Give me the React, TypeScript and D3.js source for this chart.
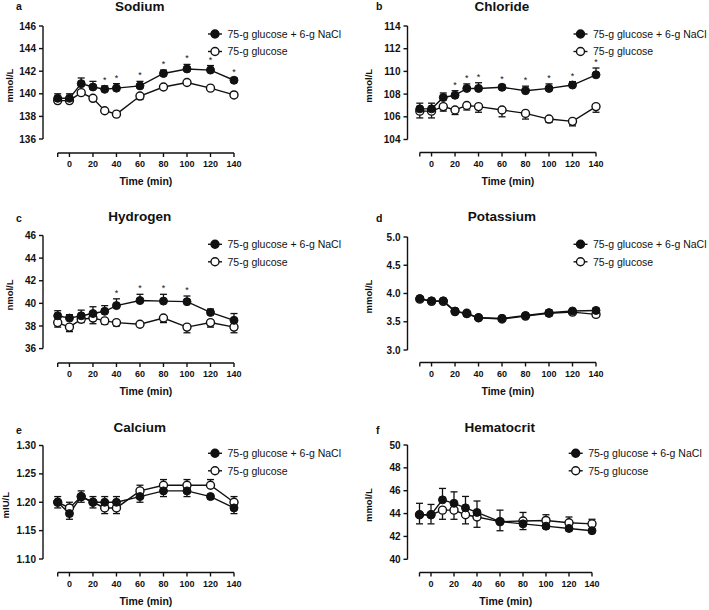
import React from 'react';
import * as d3 from 'd3';

const times = [-10, 0, 10, 20, 30, 40, 60, 80, 100, 120, 140];
const xTickValues = [0, 20, 40, 60, 80, 100, 120, 140];
const seriesNames = ['75-g glucose + 6-g NaCl', '75-g glucose'];

// a Sodium
const sodiumNaCl = [139.6, 139.6, 140.9, 140.6, 140.4, 140.5, 140.7, 141.8, 142.2, 142.1, 141.2];
const sodiumNaClErr = [0.4, 0.4, 0.5, 0.5, 0.3, 0.4, 0.4, 0.3, 0.4, 0.4, 0.2];
const sodiumGlu = [139.4, 139.4, 140.1, 139.6, 138.5, 138.2, 139.8, 140.6, 141.0, 140.5, 139.9];
const sodiumGluErr = [0.15, 0.15, 0.15, 0.15, 0.15, 0.2, 0.3, 0.15, 0.15, 0.15, 0.2];
const sodiumStars = [30, 40, 60, 80, 100, 120, 140];
const sodiumTicks = [136, 138, 140, 142, 144, 146];

// b Chloride
const chlorideNaCl = [106.7, 106.7, 107.7, 107.9, 108.5, 108.5, 108.6, 108.3, 108.5, 108.8, 109.7];
const chlorideNaClErr = [0.5, 0.5, 0.4, 0.4, 0.4, 0.5, 0.2, 0.4, 0.4, 0.3, 0.6];
const chlorideGlu = [106.5, 106.5, 106.9, 106.6, 107.0, 106.9, 106.6, 106.3, 105.8, 105.6, 106.9];
const chlorideGluErr = [0.6, 0.6, 0.4, 0.4, 0.4, 0.5, 0.6, 0.5, 0.3, 0.4, 0.5];
const chlorideStars = [20, 30, 40, 60, 80, 100, 120, 140];
const chlorideTicks = [104, 106, 108, 110, 112, 114];

// c Hydrogen
const hydrogenNaCl = [38.9, 38.7, 38.9, 39.1, 39.3, 39.8, 40.25, 40.2, 40.15, 39.2, 38.5];
const hydrogenNaClErr = [0.45, 0.3, 0.5, 0.6, 0.5, 0.6, 0.55, 0.6, 0.5, 0.3, 0.6];
const hydrogenGlu = [38.3, 37.9, 38.6, 38.7, 38.45, 38.3, 38.15, 38.7, 37.9, 38.3, 37.9];
const hydrogenGluErr = [0.4, 0.4, 0.3, 0.5, 0.3, 0.3, 0.1, 0.4, 0.5, 0.4, 0.5];
const hydrogenStars = [40, 60, 80, 100];
const hydrogenTicks = [36, 38, 40, 42, 44, 46];

// d Potassium
const potassiumNaCl = [3.91, 3.87, 3.87, 3.69, 3.64, 3.57, 3.56, 3.61, 3.66, 3.69, 3.7];
const potassiumNaClErr = [0.03, 0.04, 0.03, 0.03, 0.04, 0.03, 0.03, 0.03, 0.05, 0.04, 0.04];
const potassiumGlu = [3.9, 3.86, 3.86, 3.68, 3.65, 3.57, 3.55, 3.6, 3.65, 3.67, 3.63];
const potassiumGluErr = [0.03, 0.04, 0.03, 0.03, 0.04, 0.03, 0.03, 0.04, 0.05, 0.04, 0.04];
const potassiumStars: number[] = [];
const potassiumTicks = [3.0, 3.5, 4.0, 4.5, 5.0];

// e Calcium
const calciumNaCl = [1.2, 1.18, 1.21, 1.2, 1.2, 1.2, 1.21, 1.22, 1.22, 1.21, 1.19];
const calciumNaClErr = [0.01, 0.01, 0.01, 0.01, 0.01, 0.01, 0.01, 0.01, 0.01, 0.004, 0.01];
const calciumGlu = [1.2, 1.19, 1.21, 1.2, 1.19, 1.19, 1.22, 1.23, 1.23, 1.23, 1.2];
const calciumGluErr = [0.01, 0.01, 0.01, 0.01, 0.01, 0.01, 0.01, 0.01, 0.01, 0.01, 0.01];
const calciumStars: number[] = [];
const calciumTicks = [1.1, 1.15, 1.2, 1.25, 1.3];

// f Hematocrit
const hematocritNaCl = [43.9, 43.9, 45.2, 44.9, 44.5, 44.1, 43.3, 43.1, 42.9, 42.7, 42.5];
const hematocritNaClErr = [1.0, 0.9, 1.0, 1.0, 1.0, 1.0, 1.0, 0.5, 0.2, 0.2, 0.1];
const hematocritGlu = [43.9, 43.9, 44.3, 44.3, 43.9, 43.7, 43.3, 43.35, 43.4, 43.2, 43.1];
const hematocritGluErr = [0.8, 0.8, 0.8, 0.8, 0.8, 0.9, 0.8, 0.75, 0.5, 0.5, 0.4];
const hematocritStars: number[] = [];
const hematocritTicks = [40, 42, 44, 46, 48, 50];

type Layout = {
  axisX: number; xr: [number, number]; yr: [number, number]; xAxisY: number;
  legX: number; legY: number; titleY: number; letterX: number; letterY: number; yLabX: number;
};

type Panel = {
  letter: string; title: string; yLabel: string; ticks: number[]; fmt: string;
  nacl: number[]; naclErr: number[]; glu: number[]; gluErr: number[]; stars: number[];
  L: Layout;
};

const LEFT = { axisX: 43, xr: [57.7, 234] as [number, number], letterX: 16, yLabX: 13, legX: 215 };
const RIGHT = { axisX: 407.5, xr: [419.8, 596] as [number, number], letterX: 376, yLabX: 372, legX: 580.5 };

const panels: Panel[] = [
  { letter: 'a', title: 'Sodium', yLabel: 'mmol/L', ticks: sodiumTicks, fmt: 'd',
    nacl: sodiumNaCl, naclErr: sodiumNaClErr, glu: sodiumGlu, gluErr: sodiumGluErr, stars: sodiumStars,
    L: { ...LEFT, yr: [139, 26], xAxisY: 153, legY: 34, titleY: 11, letterY: 10 } },
  { letter: 'b', title: 'Chloride', yLabel: 'mmol/L', ticks: chlorideTicks, fmt: 'd',
    nacl: chlorideNaCl, naclErr: chlorideNaClErr, glu: chlorideGlu, gluErr: chlorideGluErr, stars: chlorideStars,
    L: { ...RIGHT, yr: [139.5, 26], xAxisY: 152.5, legY: 34, titleY: 11, letterY: 10 } },
  { letter: 'c', title: 'Hydrogen', yLabel: 'nmol/L', ticks: hydrogenTicks, fmt: 'd',
    nacl: hydrogenNaCl, naclErr: hydrogenNaClErr, glu: hydrogenGlu, gluErr: hydrogenGluErr, stars: hydrogenStars,
    L: { ...LEFT, yr: [348.6, 235.5], xAxisY: 363, legY: 244.3, titleY: 221, letterY: 222 } },
  { letter: 'd', title: 'Potassium', yLabel: 'mmol/L', ticks: potassiumTicks, fmt: '.1f',
    nacl: potassiumNaCl, naclErr: potassiumNaClErr, glu: potassiumGlu, gluErr: potassiumGluErr, stars: potassiumStars,
    L: { ...RIGHT, yr: [350, 237], xAxisY: 362.5, legY: 244.3, titleY: 221, letterY: 222 } },
  { letter: 'e', title: 'Calcium', yLabel: 'mIU/L', ticks: calciumTicks, fmt: '.2f',
    nacl: calciumNaCl, naclErr: calciumNaClErr, glu: calciumGlu, gluErr: calciumGluErr, stars: calciumStars,
    L: { ...LEFT, yLabX: 9, yr: [559, 445.5], xAxisY: 572.5, legY: 453.3, titleY: 431.5, letterY: 434 } },
  { letter: 'f', title: 'Hematocrit', yLabel: 'mmol/L', ticks: hematocritTicks, fmt: 'd',
    nacl: hematocritNaCl, naclErr: hematocritNaClErr, glu: hematocritGlu, gluErr: hematocritGluErr, stars: hematocritStars,
    L: { ...RIGHT, xr: [419.5, 592], legX: 575.7, yr: [559.3, 445], xAxisY: 572.5, legY: 453.3, titleY: 431.5, letterY: 434 } },
];

const FONT = '"Liberation Sans", Arial, Helvetica, sans-serif';
const INK = '#111';
const R = 4;

function PanelView({ p }: { p: Panel }) {
  const L = p.L;
  const x = d3.scaleLinear().domain([-10, 140]).range(L.xr);
  const y = d3.scaleLinear().domain([p.ticks[0], p.ticks[p.ticks.length - 1]]).range(L.yr);
  const f = d3.format(p.fmt);
  const line = d3.line<number>().x((_, i) => x(times[i])).y((v) => y(v));
  const xMid = (L.xr[0] + L.xr[1]) / 2;
  const yMid = (L.yr[0] + L.yr[1]) / 2;

  // error bar direction: the upper series shows its bar upward, the lower one downward
  const errBars = (vals: number[], errs: number[], other: number[], isNaCl: boolean) =>
    vals.map((v, i) => {
      const up = isNaCl ? v >= other[i] : v > other[i];
      const end = up ? v + errs[i] : v - errs[i];
      const cx = x(times[i]);
      return (
        <g key={i}>
          <line x1={cx} x2={cx} y1={y(v)} y2={y(end)} stroke={INK} strokeWidth={1.3} />
          <line x1={cx - 3.5} x2={cx + 3.5} y1={y(end)} y2={y(end)} stroke={INK} strokeWidth={1.3} />
        </g>
      );
    });

  return (
    <g>
      <text x={L.letterX} y={L.letterY} fontFamily={FONT} fontWeight="bold" fontSize={10.5} fill={INK}>{p.letter}</text>
      <text x={xMid - 6} y={L.titleY} textAnchor="middle" fontFamily={FONT} fontWeight="bold" fontSize={13.5} fill={INK}>{p.title}</text>

      {/* y axis */}
      <line x1={L.axisX} x2={L.axisX} y1={L.yr[0]} y2={L.yr[1]} stroke={INK} strokeWidth={1.4} />
      {p.ticks.map((t) => (
        <g key={t}>
          <line x1={L.axisX - 4} x2={L.axisX} y1={y(t)} y2={y(t)} stroke={INK} strokeWidth={1.4} />
          <text x={L.axisX - 7} y={y(t) + 3.6} textAnchor="end" fontFamily={FONT} fontWeight="bold" fontSize={10} fill={INK}>{f(t)}</text>
        </g>
      ))}
      <text transform={`translate(${L.yLabX},${yMid + 3}) rotate(-90)`} textAnchor="middle" fontFamily={FONT} fontWeight="bold" fontSize={9.5} fill={INK}>{p.yLabel}</text>

      {/* x axis */}
      <line x1={L.xr[0]} x2={L.xr[1]} y1={L.xAxisY} y2={L.xAxisY} stroke={INK} strokeWidth={1.4} />
      {[-10, ...xTickValues].map((t) => (
        <line key={t} x1={x(t)} x2={x(t)} y1={L.xAxisY} y2={L.xAxisY + 4} stroke={INK} strokeWidth={1.4} />
      ))}
      {xTickValues.map((t) => (
        <text key={t} x={x(t)} y={L.xAxisY + 14} textAnchor="middle" fontFamily={FONT} fontWeight="bold" fontSize={9} fill={INK}>{t}</text>
      ))}
      <text x={xMid} y={L.xAxisY + 32} textAnchor="middle" fontFamily={FONT} fontWeight="bold" fontSize={10.5} fill={INK}>Time (min)</text>

      {/* error bars */}
      {errBars(p.glu, p.gluErr, p.nacl, false)}
      {errBars(p.nacl, p.naclErr, p.glu, true)}

      {/* lines */}
      <path d={line(p.glu) || ''} fill="none" stroke={INK} strokeWidth={1.4} />
      <path d={line(p.nacl) || ''} fill="none" stroke={INK} strokeWidth={1.4} />

      {/* markers */}
      {p.glu.map((v, i) => (
        <circle key={'g' + i} cx={x(times[i])} cy={y(v)} r={R} fill="#fff" stroke={INK} strokeWidth={1.4} />
      ))}
      {p.nacl.map((v, i) => (
        <circle key={'n' + i} cx={x(times[i])} cy={y(v)} r={R} fill={INK} stroke={INK} strokeWidth={1} />
      ))}

      {/* significance stars */}
      {p.stars.map((t) => {
        const i = times.indexOf(t);
        const top = Math.max(p.nacl[i] + p.naclErr[i], p.glu[i]);
        return (
          <text key={'s' + t} x={x(t)} y={y(top) - 3} textAnchor="middle" fontFamily={FONT} fontSize={9} fill={INK}>*</text>
        );
      })}

      {/* legend */}
      {seriesNames.map((name, k) => {
        const ly = L.legY + k * 17.5;
        return (
          <g key={name}>
            <line x1={L.legX - 7} x2={L.legX + 7} y1={ly} y2={ly} stroke={INK} strokeWidth={1.4} />
            <circle cx={L.legX} cy={ly} r={R} fill={k === 0 ? INK : '#fff'} stroke={INK} strokeWidth={1.4} />
            <text x={L.legX + 12.5} y={ly + 3.8} fontFamily={FONT} fontSize={10.5} fill={INK}>{name}</text>
          </g>
        );
      })}
    </g>
  );
}

export default function App() {
  return (
    <svg width={709} height={610} viewBox="0 0 709 610" style={{ position: 'absolute', left: 0, top: 0, background: '#fff' }}>
      <rect width={709} height={610} fill="#fff" />
      {panels.map((p) => (
        <PanelView key={p.letter} p={p} />
      ))}
    </svg>
  );
}
